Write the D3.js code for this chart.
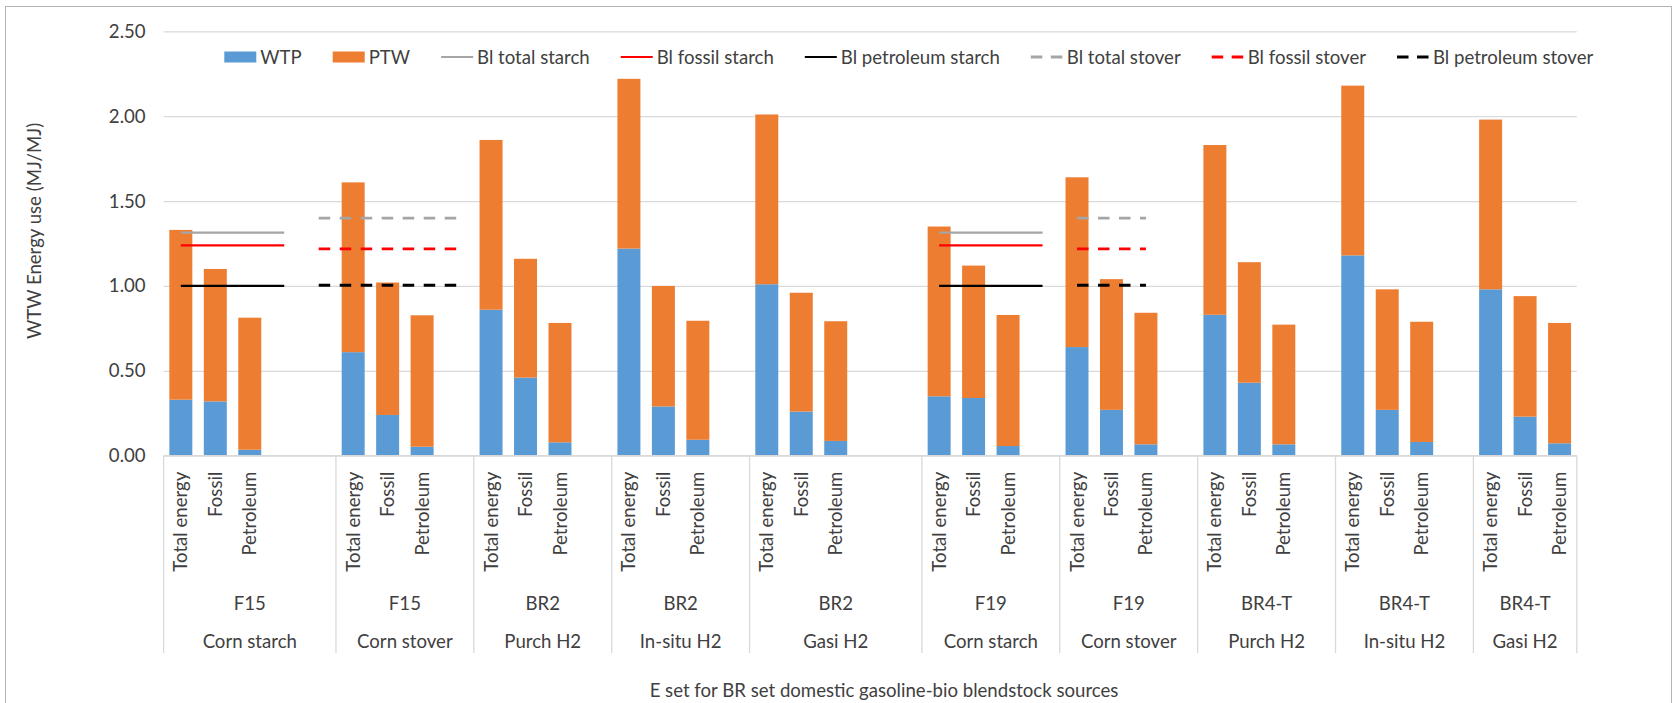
<!DOCTYPE html>
<html lang="en">
<head>
<meta charset="UTF-8">
<title>WTW Energy use</title>
<style>
  body { margin: 0; background: #fff; }
  text { font-family: Lato, "Open Sans", sans-serif; fill: #404040; }
</style>
</head>
<body>
<div id="chart"></div>
<script src="https://d3js.org/d3.v7.min.js"></script>
<script>
// groups on the category axis
const feedstocks = ["Corn starch", "Corn stover", "Purch H2", "In-situ H2", "Gasi H2",
                    "Corn starch", "Corn stover", "Purch H2", "In-situ H2", "Gasi H2"];
const blendSets = ["F15", "F15", "BR2", "BR2", "BR2", "F19", "F19", "BR4-T", "BR4-T", "BR4-T"];
const slotsPerGroup = [5, 4, 4, 4, 5, 4, 4, 4, 4, 3];
const metrics = ["Total energy", "Fossil", "Petroleum"];

// stacked values (MJ/MJ), one per group
const wtpTotal = [0.33, 0.61, 0.86, 1.22, 1.01, 0.35, 0.64, 0.83, 1.18, 0.98];
const ptwTotal = [1.00, 1.00, 1.00, 1.00, 1.00, 1.00, 1.00, 1.00, 1.00, 1.00];
const wtpFossil = [0.32, 0.24, 0.46, 0.29, 0.26, 0.34, 0.27, 0.43, 0.27, 0.23];
const ptwFossil = [0.78, 0.78, 0.70, 0.71, 0.70, 0.78, 0.77, 0.71, 0.71, 0.71];
const wtpPetroleum = [0.035, 0.053, 0.079, 0.094, 0.087, 0.057, 0.067, 0.067, 0.081, 0.073];
const ptwPetroleum = [0.778, 0.774, 0.703, 0.701, 0.705, 0.772, 0.775, 0.705, 0.708, 0.709];

// baseline reference lines: total, fossil, petroleum
const blStarch = [1.314, 1.239, 1.00];
const blStover = [1.40, 1.218, 1.004];
// [group, slot] from -> to where the baseline series have values
const starchSpans = [[[0, 0], [0, 3]], [[5, 0], [5, 3]]];
const stoverSpans = [[[0, 4], [1, 3]], [[6, 0], [6, 2]]];

const yTicks = [0, 0.5, 1.0, 1.5, 2.0, 2.5];

const W = 1673, H = 703;
const plotL = 163.6, plotR = 1576.8, plotT = 31.3, plotB = 455.7;
const fs = "18.6px";
const colors = { wtp: "#5B9BD5", ptw: "#ED7D31", total: "#A5A5A5", fossil: "#FF0000", petroleum: "#000000" };

const svg = d3.select("#chart").append("svg")
    .attr("width", W).attr("height", H);

svg.append("rect")
    .attr("x", 5.5).attr("y", 6.5).attr("width", 1666).attr("height", 740)
    .attr("fill", "#fff").attr("stroke", "#B4B4B4");

// one slot per category, including blank ones
const slots = [];
slotsPerGroup.forEach((n, g) => {
    for (let k = 0; k < n; k++) slots.push({ g, k, id: g + "-" + k });
});

const x = d3.scaleBand()
    .domain(slots.map(s => s.id))
    .range([plotL, plotR])
    .paddingInner(1 / 3)
    .paddingOuter(1 / 6);
const y = d3.scaleLinear().domain([0, 2.5]).range([plotB, plotT]);
const bw = x.bandwidth();
const cx = id => x(id) + bw / 2;
const slotLeft = id => x(id) - x.step() / 6;

// y axis with gridlines
const yAxis = svg.append("g")
    .attr("transform", `translate(${plotL},0)`)
    .call(d3.axisLeft(y).tickValues(yTicks).tickFormat(d3.format(".2f"))
        .tickSize(-(plotR - plotL)).tickPadding(18));
yAxis.select(".domain").remove();
yAxis.selectAll(".tick line").attr("stroke", "#D9D9D9").attr("stroke-width", 1.3);
yAxis.selectAll(".tick text")
    .style("font-family", "Lato, sans-serif").style("font-size", fs).attr("fill", "#404040");

// bars
const rows = [];
const wtpCols = [wtpTotal, wtpFossil, wtpPetroleum];
const ptwCols = [ptwTotal, ptwFossil, ptwPetroleum];
feedstocks.forEach((f, g) => {
    metrics.forEach((m, k) => {
        rows.push({ id: g + "-" + k, metric: m, wtp: wtpCols[k][g], ptw: ptwCols[k][g] });
    });
});
const stacked = d3.stack().keys(["wtp", "ptw"])(rows);
svg.append("g").selectAll("g")
    .data(stacked)
    .join("g")
    .attr("fill", d => colors[d.key])
    .selectAll("rect")
    .data(d => d)
    .join("rect")
    .attr("x", d => x(d.data.id))
    .attr("width", bw)
    .attr("y", d => y(d[1]))
    .attr("height", d => y(d[0]) - y(d[1]));

// baseline lines
const line = d3.line().x(d => cx(d.id)).y(d => y(d.v));
function drawSpans(spans, values, dashed) {
    spans.forEach(sp => {
        const a = slots.findIndex(s => s.g === sp[0][0] && s.k === sp[0][1]);
        const b = slots.findIndex(s => s.g === sp[1][0] && s.k === sp[1][1]);
        ["total", "fossil", "petroleum"].forEach((key, i) => {
            const pts = slots.slice(a, b + 1).map(s => ({ id: s.id, v: values[i] }));
            svg.append("path")
                .attr("d", line(pts))
                .attr("fill", "none")
                .attr("stroke", colors[key])
                .attr("stroke-width", dashed ? 2.8 : 2.2)
                .attr("stroke-dasharray", dashed ? "11.5,9.5" : null);
        });
    });
}
drawSpans(starchSpans, blStarch, false);
drawSpans(stoverSpans, blStover, true);

// category axis
const axisG = svg.append("g");
axisG.append("line")
    .attr("x1", plotL).attr("x2", plotR).attr("y1", plotB).attr("y2", plotB)
    .attr("stroke", "#D9D9D9").attr("stroke-width", 1.3);
const groupEdges = [];
let idx = 0;
slotsPerGroup.forEach(n => { groupEdges.push(slotLeft(slots[idx].id)); idx += n; });
groupEdges.push(plotR);
axisG.selectAll("line.sep")
    .data(groupEdges)
    .join("line")
    .attr("class", "sep")
    .attr("x1", d => d).attr("x2", d => d)
    .attr("y1", plotB).attr("y2", 653)
    .attr("stroke", "#D9D9D9").attr("stroke-width", 1.3);

axisG.selectAll("text.metric")
    .data(rows)
    .join("text")
    .attr("class", "metric")
    .attr("transform", d => `translate(${cx(d.id)},${plotB + 16}) rotate(-90)`)
    .attr("text-anchor", "end")
    .attr("dy", "0.35em")
    .style("font-size", fs)
    .text(d => d.metric);

const groupCenters = groupEdges.slice(0, -1).map((e, i) => (e + groupEdges[i + 1]) / 2);
axisG.selectAll("text.set")
    .data(blendSets)
    .join("text")
    .attr("class", "set")
    .attr("x", (d, i) => groupCenters[i])
    .attr("y", 603)
    .attr("dy", "0.35em")
    .attr("text-anchor", "middle")
    .style("font-size", fs)
    .text(d => d);
axisG.selectAll("text.feed")
    .data(feedstocks)
    .join("text")
    .attr("class", "feed")
    .attr("x", (d, i) => groupCenters[i])
    .attr("y", 641)
    .attr("dy", "0.35em")
    .attr("text-anchor", "middle")
    .style("font-size", fs)
    .text(d => d);

// axis titles
svg.append("text")
    .attr("transform", "translate(34,231) rotate(-90)")
    .attr("text-anchor", "middle")
    .attr("dy", "0.35em")
    .style("font-size", fs)
    .text("WTW Energy use (MJ/MJ)");
svg.append("text")
    .attr("x", 884).attr("y", 690)
    .attr("dy", "0.35em")
    .attr("text-anchor", "middle")
    .style("font-size", fs)
    .text("E set for BR set domestic gasoline-bio blendstock sources");

// legend
const legendItems = [
    { name: "WTP", kind: "rect", color: colors.wtp },
    { name: "PTW", kind: "rect", color: colors.ptw },
    { name: "Bl total starch", kind: "line", color: colors.total },
    { name: "Bl fossil starch", kind: "line", color: colors.fossil },
    { name: "Bl petroleum starch", kind: "line", color: colors.petroleum },
    { name: "Bl total stover", kind: "dash", color: colors.total },
    { name: "Bl fossil stover", kind: "dash", color: colors.fossil },
    { name: "Bl petroleum stover", kind: "dash", color: colors.petroleum }
];
const legend = svg.append("g");
let lx = 224.3;
const ly = 57;
legendItems.forEach(it => {
    if (it.kind === "rect") {
        legend.append("rect").attr("x", lx).attr("y", ly - 5.5).attr("width", 32).attr("height", 11)
            .attr("fill", it.color);
    } else {
        legend.append("line").attr("x1", lx).attr("x2", lx + 32).attr("y1", ly).attr("y2", ly)
            .attr("stroke", it.color)
            .attr("stroke-width", it.kind === "dash" ? 2.8 : 2.2)
            .attr("stroke-dasharray", it.kind === "dash" ? "11.5,8.5" : null);
    }
    const t = legend.append("text")
        .attr("x", lx + 36).attr("y", ly).attr("dy", "0.35em")
        .style("font-size", fs)
        .text(it.name);
    lx += 36 + t.node().getComputedTextLength() + 31;
});
</script>
</body>
</html>
